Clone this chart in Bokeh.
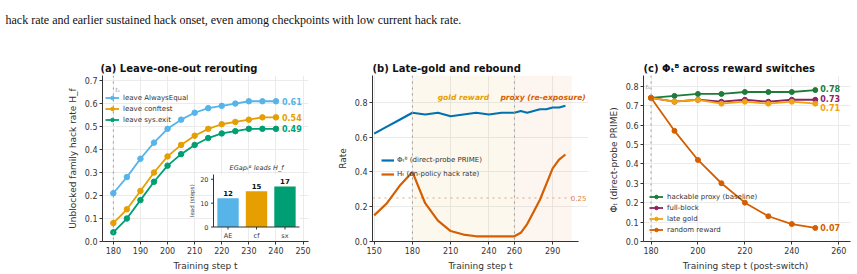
import numpy as np
from bokeh.plotting import figure
from bokeh.models import (Label, Legend, LegendItem, FixedTicker, Span, BoxAnnotation,
                          ColumnDataSource, Range1d, NumeralTickFormatter)
from bokeh.layouts import column, row
from bokeh.embed import file_html
from bokeh.resources import INLINE
from bokeh.core.properties import value

# ---------------- data ----------------
caption = "hack rate and earlier sustained hack onset, even among checkpoints with low current hack rate."

# (a) leave-one-out rerouting
steps_a = [180, 185, 190, 195, 200, 205, 210, 215, 220, 225, 230, 235, 240]
leave_alwaysequal = [0.21, 0.28, 0.36, 0.43, 0.49, 0.53, 0.56, 0.58, 0.59, 0.60, 0.61, 0.61, 0.61]
leave_conftest = [0.08, 0.14, 0.22, 0.30, 0.37, 0.42, 0.46, 0.49, 0.51, 0.52, 0.53, 0.54, 0.54]
leave_sysexit = [0.04, 0.10, 0.18, 0.26, 0.33, 0.38, 0.42, 0.45, 0.47, 0.48, 0.49, 0.49, 0.49]
names_a = ["leave AlwaysEqual", "leave conftest", "leave sys.exit"]
lead_cats = ["AE", "cf", "sx"]
lead_steps = [12, 15, 17]
lead_ticks = [0, 10, 20]
switch_step = 180

# (b) late-gold and rebound
steps_b = [150, 160, 170, 180, 190, 200, 210, 220, 230, 240, 250, 260, 265, 270, 275, 280, 285, 290, 295, 300]
phi_b = [0.62, 0.66, 0.70, 0.74, 0.73, 0.74, 0.72, 0.73, 0.74, 0.73, 0.74, 0.74, 0.75, 0.74, 0.75, 0.76, 0.76, 0.77, 0.77, 0.78]
hack_b = [0.15, 0.22, 0.32, 0.40, 0.22, 0.12, 0.06, 0.04, 0.03, 0.03, 0.03, 0.03, 0.05, 0.10, 0.17, 0.24, 0.33, 0.42, 0.47, 0.50]
gold_start, proxy_start, proxy_end = 180, 260, 305
threshold = 0.25

# (c) Phi across reward switches
steps_c = [180, 190, 200, 210, 220, 230, 240, 250]
hackable_proxy = [0.74, 0.75, 0.76, 0.76, 0.77, 0.77, 0.77, 0.78]
full_block = [0.74, 0.72, 0.73, 0.72, 0.73, 0.72, 0.73, 0.73]
late_gold = [0.74, 0.72, 0.73, 0.71, 0.72, 0.71, 0.72, 0.71]
random_reward = [0.74, 0.57, 0.42, 0.30, 0.20, 0.13, 0.09, 0.07]
names_c = ["hackable proxy (baseline)", "full-block", "late gold", "random reward"]

# ---------------- styling ----------------
FONT = "DejaVu Sans"
TXT = "#333333"
C_A = ["#56B4E9", "#E69F00", "#009E73"]
C_B = ["#0072B2", "#D55E00"]
C_C = ["#1E7B3A", "#8B2461", "#F0A30F", "#D55E00"]


def style(p, title):
    p.outline_line_color = None
    p.background_fill_color = "white"
    p.border_fill_color = "white"
    p.title.text = title
    p.title.text_font = FONT
    p.title.text_font_size = "10px"
    p.title.text_font_style = "bold"
    p.title.text_color = "#111111"
    p.title.align = "left"
    p.title.standoff = 4
    for ax in p.axis:
        ax.axis_line_color = TXT
        ax.major_tick_line_color = TXT
        ax.major_tick_out = 3
        ax.major_tick_in = 0
        ax.minor_tick_line_color = None
        ax.major_label_text_font = FONT
        ax.major_label_text_font_size = "8px"
        ax.major_label_text_color = TXT
        ax.major_label_standoff = 2
        ax.axis_label_text_font = FONT
        ax.axis_label_text_font_size = "9px"
        ax.axis_label_text_font_style = "normal"
        ax.axis_label_text_color = TXT
        ax.axis_label_standoff = 4
    p.grid.grid_line_color = "#e6e6e6"
    p.grid.grid_line_width = 0.8


def legend(p, items, loc, h=9, sp=2, gw=14, so=4):
    lg = Legend(items=items, location=loc, label_text_font=FONT, label_text_font_size="7px",
                label_text_color=TXT, glyph_width=gw, glyph_height=h, label_height=h,
                spacing=sp, padding=0, margin=0, border_line_color=None,
                background_fill_alpha=0, label_standoff=so)
    p.add_layout(lg)


# ---------------- caption ----------------
cap = figure(width=857, height=40, x_range=(0, 1), y_range=(0, 1), toolbar_location=None,
             output_backend="svg", x_axis_type=None, y_axis_type=None, min_border=0)
cap.outline_line_color = None
cap.grid.visible = False
cap.add_layout(Label(x=5, y=21, x_units="screen", y_units="screen", text=caption,
                     text_font="Liberation Serif", text_font_size="12px",
                     text_color="#111111", text_baseline="alphabetic"))

# ---------------- panel (a) ----------------
A_W, A_H, A_L, A_R, A_T, A_B = 330, 234, 102, 22, 35, 33
pa = figure(width=A_W, height=A_H, x_range=Range1d(176, 252), y_range=Range1d(0, 0.722),
            toolbar_location=None, output_backend="svg",
            min_border_left=A_L, min_border_right=A_R, min_border_top=A_T, min_border_bottom=A_B)
style(pa, "(a) Leave-one-out rerouting")
pa.title.offset = -2
pa.xaxis.ticker = FixedTicker(ticks=list(range(180, 251, 10)))
pa.yaxis.ticker = FixedTicker(ticks=[0, 0.1, 0.2, 0.3, 0.4, 0.5, 0.6, 0.7])
pa.yaxis.formatter = NumeralTickFormatter(format="0.0")
pa.xaxis.axis_label = "Training step t"
pa.yaxis.axis_label = "Unblocked family hack rate H_f"
pa.add_layout(Span(location=switch_step, dimension="height", line_color="#999999",
                   line_dash="dotted", line_width=1))
pa.add_layout(Label(x=switch_step, y=0.66, text="tₛ", x_offset=2, text_font=FONT,
                    text_font_size="6px", text_font_style="italic", text_color="#999999",
                    text_baseline="middle"))
items = []
for name, ys, c in zip(names_a, [leave_alwaysequal, leave_conftest, leave_sysexit], C_A):
    src = ColumnDataSource(dict(x=steps_a, y=ys))
    r1 = pa.line("x", "y", source=src, line_color=c, line_width=1.8)
    r2 = pa.scatter("x", "y", source=src, size=5.5, fill_color=c, line_color=c)
    items.append(LegendItem(label=name, renderers=[r1, r2]))
    pa.text(x=[steps_a[-1]], y=[ys[-1]], text=[f"{ys[-1]:.2f}"], x_offset=6,
            text_font=value(FONT), text_font_size="8px", text_font_style="bold",
            text_color=c, text_baseline="middle")
legend(pa, items, (3, 117))

# ---- inset (drawn inside panel (a) through its own extra scales) ----
fr_w, fr_h = A_W - A_L - A_R, A_H - A_T - A_B          # frame size of panel (a)
box_l, box_r, box_t, box_b = 111, 197, 99, 151.5        # inset box, px from frame top-left
ix0, ix1 = -0.51, len(lead_cats) - 1 + 0.51
iy0, iy1 = 0, 22
sx = (box_r - box_l) / (ix1 - ix0)
sy = (box_b - box_t) / (iy1 - iy0)
pa.extra_x_ranges = {"ix": Range1d(ix0 - box_l / sx, ix1 + (fr_w - box_r) / sx)}
pa.extra_y_ranges = {"iy": Range1d(iy0 - (fr_h - box_b) / sy, iy1 + box_t / sy)}
ik = dict(x_range_name="ix", y_range_name="iy")
xi = list(range(len(lead_cats)))
pa.quad(left=[ix0], right=[ix1], bottom=[iy0], top=[iy1], fill_color="white",
        line_color=None, **ik)
pa.vbar(x=xi, top=lead_steps, width=0.75, fill_color=C_A, line_color=None, **ik)
pa.text(x=xi, y=lead_steps, text=[str(v) for v in lead_steps], y_offset=-2,
        text_font=value(FONT), text_font_size="7px", text_font_style="bold",
        text_color="#111111", text_align="center", text_baseline="bottom", **ik)
# spines
pa.segment(x0=[ix0, ix0], y0=[iy0, iy0], x1=[ix0, ix1], y1=[iy1, iy0],
           line_color=TXT, line_width=1, **ik)
# y ticks + labels
tick = 2.5
pa.segment(x0=[ix0] * len(lead_ticks), x1=[ix0 - tick / sx] * len(lead_ticks),
           y0=lead_ticks, y1=lead_ticks, line_color=TXT, line_width=1, **ik)
pa.text(x=[ix0] * len(lead_ticks), y=lead_ticks, text=[str(t) for t in lead_ticks],
        x_offset=-5, text_font=value(FONT), text_font_size="6.5px", text_color=TXT,
        text_align="right", text_baseline="middle", **ik)
# x ticks + labels
pa.segment(x0=xi, x1=xi, y0=[iy0] * len(xi), y1=[iy0 - tick / sy] * len(xi),
           line_color=TXT, line_width=1, **ik)
pa.text(x=xi, y=[iy0] * len(xi), text=lead_cats, y_offset=9,
        text_font=value(FONT), text_font_size="6.5px", text_color=TXT,
        text_align="center", text_baseline="middle", **ik)
# inset y label and title
pa.text(x=[ix0], y=[(iy0 + iy1) / 2], text=["lead (steps)"], x_offset=-22, angle=np.pi / 2,
        text_font=value(FONT), text_font_size="5.5px", text_color=TXT,
        text_align="center", text_baseline="middle", **ik)
pa.text(x=[(ix0 + ix1) / 2], y=[iy1], text=["EGapₜᴮ leads H_f"], y_offset=-7,
        text_font=value(FONT), text_font_size="6.5px", text_font_style="italic",
        text_color=TXT, text_align="center", text_baseline="middle", **ik)

# ---------------- panel (b) ----------------
xb_lo, xb_hi = 148.7, 310.3
pb = figure(width=270, height=234, x_range=Range1d(xb_lo, 318.1), y_range=Range1d(0, 0.954),
            toolbar_location=None, output_backend="svg",
            min_border_left=42, min_border_right=12, min_border_top=35, min_border_bottom=33)
style(pb, "(b) Late-gold and rebound")
pb.xaxis.bounds = (xb_lo, xb_hi)
pb.ygrid.bounds = (xb_lo, xb_hi)
pb.xaxis.ticker = FixedTicker(ticks=[150, 180, 210, 240, 260, 290])
pb.yaxis.ticker = FixedTicker(ticks=[0, 0.2, 0.4, 0.6, 0.8])
pb.yaxis.formatter = NumeralTickFormatter(format="0.0")
pb.xaxis.axis_label = "Training step t"
pb.yaxis.axis_label = "Rate"
pb.add_layout(BoxAnnotation(left=gold_start, right=proxy_start, fill_color="#E69F00",
                            fill_alpha=0.07, line_color=None, level="underlay"))
pb.add_layout(BoxAnnotation(left=proxy_start, right=proxy_end, fill_color="#D55E00",
                            fill_alpha=0.06, line_color=None, level="underlay"))
for loc in (gold_start, proxy_start):
    pb.add_layout(Span(location=loc, dimension="height", line_color="#999999",
                       line_dash="dotted", line_width=1))
pb.segment(x0=[xb_lo], x1=[proxy_end], y0=[threshold], y1=[threshold],
           line_color="#D55E00", line_alpha=0.55, line_dash="dotted", line_width=1)
pb.add_layout(Label(x=proxy_end, y=threshold, text=f"{threshold:.2f}", x_offset=-1,
                    text_font=FONT, text_font_size="7px", text_color="#D55E00",
                    text_alpha=0.8, text_baseline="middle"))
pb.add_layout(Label(x=(gold_start + proxy_start) / 2, y=0.83, text="gold reward",
                    text_font=FONT, text_font_size="7.6px", text_font_style="bold italic",
                    text_color="#E69F00", text_align="center", text_baseline="middle"))
pb.add_layout(Label(x=(proxy_start + proxy_end) / 2, y=0.83, text="proxy (re-exposure)",
                    text_font=FONT, text_font_size="7.6px", text_font_style="bold italic",
                    text_color="#D55E00", text_align="center", text_baseline="middle"))
rb1 = pb.line(steps_b, phi_b, line_color=C_B[0], line_width=2.2)
rb2 = pb.line(steps_b, hack_b, line_color=C_B[1], line_width=2.2)
legend(pb, [LegendItem(label="Φₜᴮ (direct-probe PRIME)", renderers=[rb1]),
            LegendItem(label="Hₜ (on-policy hack rate)", renderers=[rb2])],
       (9, 62), h=10, sp=4, gw=13, so=3)

# ---------------- panel (c) ----------------
pc = figure(width=257, height=234, x_range=Range1d(176.8, 265), y_range=Range1d(0, 0.855),
            toolbar_location=None, output_backend="svg",
            min_border_left=43, min_border_right=7, min_border_top=35, min_border_bottom=33)
style(pc, "(c) Φₜᴮ across reward switches")
pc.xaxis.ticker = FixedTicker(ticks=[180, 200, 220, 240, 260])
pc.yaxis.ticker = FixedTicker(ticks=[0, 0.1, 0.2, 0.3, 0.4, 0.5, 0.6, 0.7, 0.8])
pc.yaxis.formatter = NumeralTickFormatter(format="0.0")
pc.xaxis.axis_label = "Training step t  (post-switch)"
pc.yaxis.axis_label = "Φₜ  (direct-probe PRIME)"
pc.add_layout(Span(location=switch_step, dimension="height", line_color="#999999",
                   line_dash="dotted", line_width=1))
pc.add_layout(Label(x=switch_step, y=0.80, text="tₛ", x_offset=-1, text_font=FONT,
                    text_font_size="6px", text_font_style="italic", text_color="#999999",
                    text_align="right", text_baseline="middle"))
items = []
nudges = [-2, -1, 4, 0]
for name, ys, c, dy in zip(names_c, [hackable_proxy, full_block, late_gold, random_reward], C_C, nudges):
    src = ColumnDataSource(dict(x=steps_c, y=ys))
    r1 = pc.line("x", "y", source=src, line_color=c, line_width=1.8)
    r2 = pc.scatter("x", "y", source=src, size=5, fill_color=c, line_color=c)
    items.append(LegendItem(label=name, renderers=[r1, r2]))
    pc.text(x=[steps_c[-1]], y=[ys[-1]], text=[f"{ys[-1]:.2f}"], x_offset=5, y_offset=dy,
            text_font=value(FONT), text_font_size="8px", text_font_style="bold",
            text_color=c, text_baseline="middle")
legend(pc, items, (6, 7))

layout = column(cap, row(pa, pb, pc))
with open("out.html", "w") as f:
    f.write(file_html(layout, INLINE))
